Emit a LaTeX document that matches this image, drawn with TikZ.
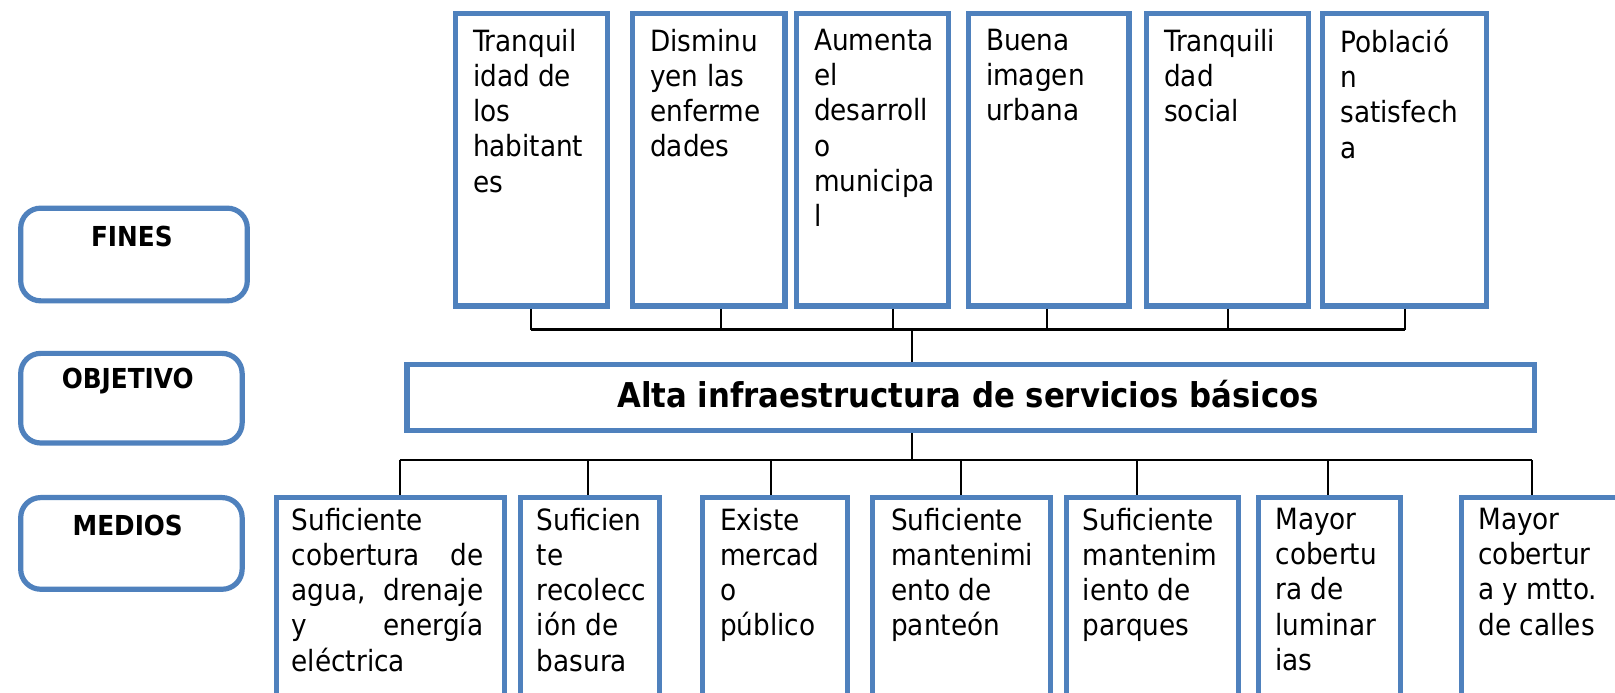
\documentclass[tikz,border=0pt]{standalone}
\usepackage{fontspec}
\setmainfont{DejaVu Sans Condensed}
\usetikzlibrary{calc}
\definecolor{bblue}{HTML}{4F81BD}
\begin{document}
\begin{tikzpicture}[x=1pt,y=-1pt,scale=1.03,
  every node/.append style={transform shape},
  bluebox/.style={draw=bblue,line width=5.2pt,inner sep=0pt,anchor=north west,fill=white},
  labbox/.style={bluebox,rounded corners=20pt},
  boxtext/.style={inner sep=0pt,anchor=north west,align=left,font=\fontsize{28.4}{34.2}\selectfont},
  labtext/.style={inner sep=0pt,font=\fontsize{26.7}{32}\selectfont\bfseries},
  conn/.style={draw=black,line width=2pt},
  bus/.style={draw=black,line width=2.6pt}]
\useasboundingbox (0,0) rectangle (1568,672.8);
\clip (0,0) rectangle (1568,672.8);
\fill[white] (0,0) rectangle (1568,672.8);

% left labels
\node[labbox,minimum width=220pt,minimum height=90pt] (lf) at (17.5,199.5) {};
\node[labbox,minimum width=215pt,minimum height=87pt] (lo) at (17.5,340.5) {};
\node[labbox,minimum width=215pt,minimum height=89pt] (lm) at (17.5,480.5) {};
\node[labtext] (lft) at (128,230) {FINES};
\node[labtext] (lot) at (124,370) {OBJETIVO};
\node[labtext] (lmt) at (124,510) {MEDIOS};

% fines
\node[bluebox,minimum width=148pt,minimum height=284pt] (f1) at (439.5,10.5) {};
\node[bluebox,minimum width=148pt,minimum height=284pt] (f2) at (611.5,10.5) {};
\node[bluebox,minimum width=148pt,minimum height=284pt] (f3) at (770.5,10.5) {};
\node[bluebox,minimum width=156pt,minimum height=284pt] (f4) at (937.5,10.5) {};
\node[bluebox,minimum width=157pt,minimum height=284pt] (f5) at (1110.5,10.5) {};
\node[bluebox,minimum width=159pt,minimum height=284pt] (f6) at (1281.5,10.5) {};
\node[boxtext] (f1t) at ($(f1.north west)+(19.5,17.5)$) {Tranquil\\idad de\\los\\habitant\\es};
\node[boxtext] (f2t) at ($(f2.north west)+(19.5,17.5)$) {Disminu\\yen las\\enferme\\dades};
\node[boxtext] (f3t) at ($(f3.north west)+(19.5,17.5)$) {Aumenta\\el\\desarroll\\o\\municipa\\l};
\node[boxtext] (f4t) at ($(f4.north west)+(19.5,17.5)$) {Buena\\imagen\\urbana};
\node[boxtext] (f5t) at ($(f5.north west)+(19.5,17.5)$) {Tranquili\\dad\\social};
\node[boxtext] (f6t) at ($(f6.north west)+(19.5,17.5)$) {Població\\n\\satisfech\\a};

% objetivo
\node[bluebox,minimum width=1095pt,minimum height=64pt] (obj) at (392.5,351.5) {};
\node[inner sep=0pt,font=\fontsize{33.2}{40}\selectfont\bfseries] (objt) at (940,383) {Alta infraestructura de servicios básicos};

% medios
\node[bluebox,minimum width=222pt,minimum height=260pt] (m1) at (265.5,480.5) {};
\node[bluebox,minimum width=135pt,minimum height=260pt] (m2) at (502.5,480.5) {};
\node[bluebox,minimum width=141pt,minimum height=260pt] (m3) at (679.5,480.5) {};
\node[bluebox,minimum width=173pt,minimum height=260pt] (m4) at (844.5,480.5) {};
\node[bluebox,minimum width=167pt,minimum height=260pt] (m5) at (1032.5,480.5) {};
\node[bluebox,minimum width=138pt,minimum height=260pt] (m6) at (1219.5,480.5) {};
\node[bluebox,minimum width=230pt,minimum height=260pt] (m7) at (1416.5,480.5) {};
\node[boxtext,text width=186pt] (m1t) at ($(m1.north west)+(17.5,12.5)$) {Suficiente\\cobertura\hfill de\\agua,\hfill drenaje\\y\hfill energía\\eléctrica};
\node[boxtext] (m2t) at ($(m2.north west)+(18.5,12.5)$) {Suficien\\te\\recolecc\\ión de\\basura};
\node[boxtext] (m3t) at ($(m3.north west)+(19.5,12.5)$) {Existe\\mercad\\o\\público};
\node[boxtext] (m4t) at ($(m4.north west)+(20.5,12.5)$) {Suficiente\\mantenimi\\ento de\\panteón};
\node[boxtext] (m5t) at ($(m5.north west)+(18.5,12.5)$) {Suficiente\\mantenim\\iento de\\parques};
\node[boxtext] (m6t) at ($(m6.north west)+(18.5,12.5)$) {Mayor\\cobertu\\ra de\\luminar\\ias};
\node[boxtext] (m7t) at ($(m7.north west)+(18.5,12.5)$) {Mayor\\cobertur\\a y mtto.\\de calles};

% top connectors
\coordinate (tb) at (885,320);
\draw[conn] ([xshift=-1pt]f1.south) -- ([xshift=-1pt]f1.south |- tb);
\draw[conn] ([xshift=12pt]f2.south) -- ([xshift=12pt]f2.south |- tb);
\draw[conn] ([xshift=20pt]f3.south) -- ([xshift=20pt]f3.south |- tb);
\draw[conn] ([xshift=-2pt]f4.south) -- ([xshift=-2pt]f4.south |- tb);
\draw[conn] (f5.south) -- (f5.south |- tb);
\draw[conn] (f6.south) -- (f6.south |- tb);
\draw[bus] ([xshift=-1pt]f1.south |- tb) -- (f6.south |- tb);
\draw[conn] (tb) -- (tb |- obj.north);

% bottom connectors
\coordinate (bb) at (885,447);
\draw[conn] (obj.south -| bb) -- (bb);
\coordinate (b1) at (388,447);
\coordinate (b2) at (571,447);
\coordinate (b3) at (748,447);
\coordinate (b4) at (933,447);
\coordinate (b5) at (1104,447);
\coordinate (b6) at (1289,447);
\coordinate (b7) at (1487,447);
\draw[conn] (b1) -- (b7);
\draw[conn] (b1) -- (b1 |- m1.north);
\draw[conn] (b2) -- (b2 |- m2.north);
\draw[conn] (b3) -- (b3 |- m3.north);
\draw[conn] (b4) -- (b4 |- m4.north);
\draw[conn] (b5) -- (b5 |- m5.north);
\draw[conn] (b6) -- (b6 |- m6.north);
\draw[conn] (b7) -- (b7 |- m7.north);
\end{tikzpicture}
\end{document}
